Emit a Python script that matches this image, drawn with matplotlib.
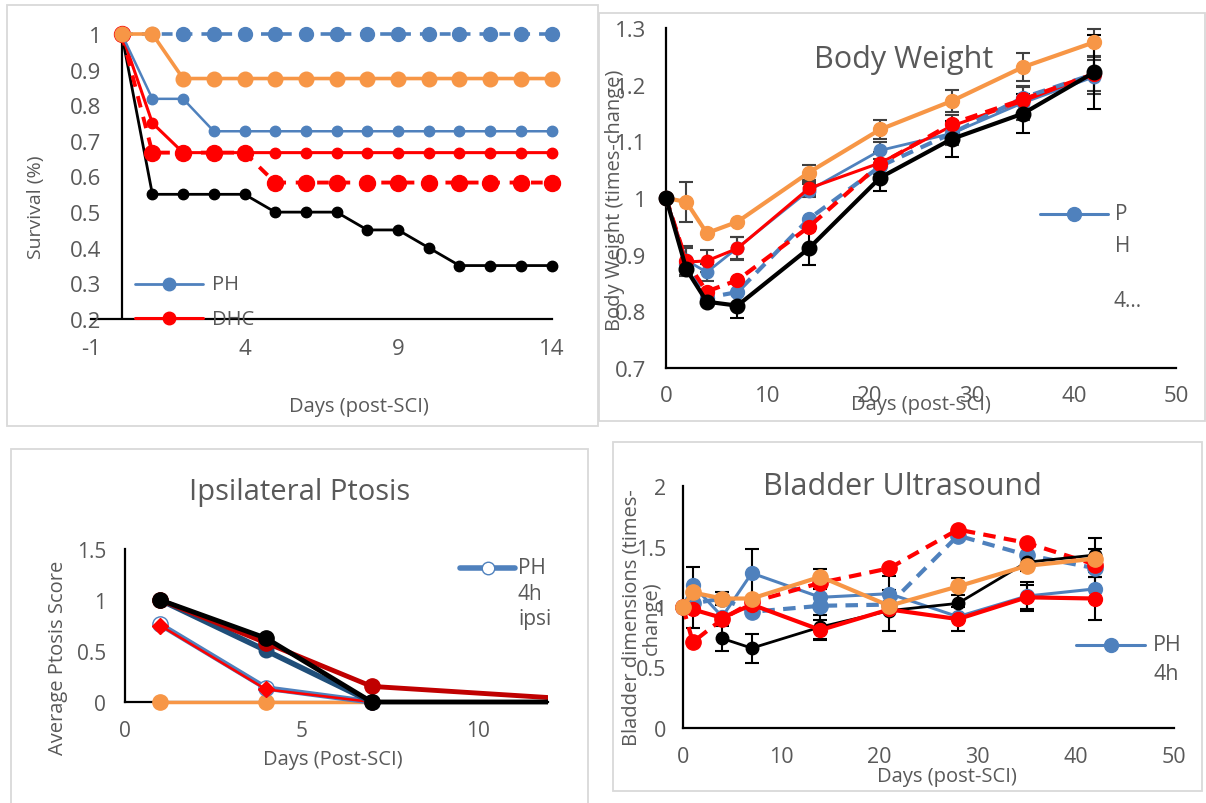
import numpy as np
import matplotlib
matplotlib.use('Agg')
import matplotlib.pyplot as plt
from matplotlib.patches import Rectangle
from matplotlib.lines import Line2D

plt.rcParams['font.family'] = ['Open Sans', 'DejaVu Sans']
plt.rcParams['axes.unicode_minus'] = False

nan = np.nan
# ---------------- data ----------------
# Survival
surv_days = [0, 1, 2, 3, 4, 5, 6, 7, 8, 9, 10, 11, 12, 13, 14]
surv_blue_dash = [1, 1, 1, 1, 1, 1, 1, 1, 1, 1, 1, 1, 1, 1, 1]
surv_orange = [1, 1, 0.875, 0.875, 0.875, 0.875, 0.875, 0.875, 0.875, 0.875, 0.875, 0.875, 0.875, 0.875, 0.875]
surv_blue = [1, 0.818, 0.818, 0.727, 0.727, 0.727, 0.727, 0.727, 0.727, 0.727, 0.727, 0.727, 0.727, 0.727, 0.727]
surv_red = [1, 0.75, 0.667, 0.667, 0.667, 0.667, 0.667, 0.667, 0.667, 0.667, 0.667, 0.667, 0.667, 0.667, 0.667]
surv_red_dash = [1, 0.667, 0.667, 0.667, 0.667, 0.583, 0.583, 0.583, 0.583, 0.583, 0.583, 0.583, 0.583, 0.583, 0.583]
surv_black = [1, 0.55, 0.55, 0.55, 0.55, 0.5, 0.5, 0.5, 0.45, 0.45, 0.4, 0.35, 0.35, 0.35, 0.35]
surv_yticks = [0.2, 0.3, 0.4, 0.5, 0.6, 0.7, 0.8, 0.9, 1.0]
surv_ylabels = ['0.2', '0.3', '0.4', '0.5', '0.6', '0.7', '0.8', '0.9', '1']
surv_xticks = [-1, 4, 9, 14]

# Body weight
bw_days = [0, 2, 4, 7, 14, 21, 28, 35, 42]
bw_orange = [1.0, 0.993, 0.938, 0.958, 1.045, 1.121, 1.171, 1.231, 1.275]
bw_blue = [1.0, 0.89, 0.869, 0.912, 1.013, 1.084, 1.114, 1.168, 1.214]
bw_red = [1.0, 0.887, 0.889, 0.911, 1.017, 1.062, 1.127, 1.171, 1.219]
bw_blue_dash = [1.0, 0.883, 0.824, 0.834, 0.963, 1.056, 1.114, 1.177, 1.219]
bw_red_dash = [1.0, 0.888, 0.835, 0.855, 0.949, 1.060, 1.131, 1.174, 1.219]
bw_black = [1.0, 0.874, 0.817, 0.810, 0.911, 1.036, 1.104, 1.149, 1.222]
bw_orange_err = [nan, 0.035, nan, nan, 0.014, 0.017, 0.019, 0.025, 0.024]
bw_black_err = [nan, nan, nan, 0.022, 0.03, 0.024, 0.032, 0.034, 0.065]
bw_red_err = [nan, 0.025, 0.02, 0.02, 0.012, 0.02, 0.02, 0.025, 0.03]
bw_blue_err = [nan, 0.025, 0.015, 0.02, 0.012, 0.015, 0.02, 0.03, 0.03]
bw_yticks = [0.7, 0.8, 0.9, 1.0, 1.1, 1.2, 1.3]
bw_ylabels = ['0.7', '0.8', '0.9', '1', '1.1', '1.2', '1.3']
bw_xticks = [0, 10, 20, 30, 40, 50]

# Ptosis
pt_days = [1, 4, 7, 14]
pt_darkblue = [1.0, 0.505, 0.0, nan]
pt_darkred = [1.0, 0.58, 0.153, 0.0]
pt_black = [1.0, 0.626, 0.0, 0.0]
pt_blue_open = [0.76, 0.137, 0.0, nan]
pt_red_diamond = [0.75, 0.124, 0.0, nan]
pt_orange = [0.0, 0.0, 0.0, nan]
pt_yticks = [0, 0.5, 1, 1.5]
pt_ylabels = ['0', '0.5', '1', '1.5']
pt_xticks = [0, 5, 10]

# Bladder
bl_days = [0, 1, 4, 7, 14, 21, 28, 35, 42]
bl_blue = [1.0, 1.18, 0.92, 1.28, 1.08, 1.11, 0.92, 1.09, 1.15]
bl_blue_dash = [1.0, 1.03, 1.07, 0.96, 1.01, 1.02, 1.59, 1.43, 1.32]
bl_red_dash = [1.0, 0.71, 0.90, 1.04, 1.20, 1.32, 1.64, 1.53, 1.35]
bl_red = [1.0, 0.98, 0.91, 1.02, 0.81, 0.98, 0.90, 1.08, 1.07]
bl_black = [nan, nan, 0.74, 0.66, 0.835, 0.97, 1.03, 1.37, 1.43]
bl_orange = [1.0, 1.12, 1.07, 1.07, 1.25, 1.01, 1.17, 1.34, 1.40]
bl_blue_err = [nan, 0.15, nan, 0.2, 0.07, 0.15, nan, 0.12, 0.1]
bl_black_err = [nan, nan, 0.1, 0.12, 0.1, 0.17, 0.12, 0.07, 0.14]
bl_red_err = [nan, 0.15, nan, nan, 0.08, nan, 0.1, 0.1, 0.18]
bl_orange_err = [nan, nan, 0.05, nan, 0.06, nan, 0.07, nan, 0.08]
bl_yticks = [0, 0.5, 1, 1.5, 2]
bl_ylabels = ['0', '0.5', '1', '1.5', '2']
bl_xticks = [0, 10, 20, 30, 40, 50]

# ---------------- style ----------------
BLUE = '#4F81BD'
ORANGE = '#F79646'
RED = '#FF0000'
DBLUE = '#1F4E79'
DRED = '#C00000'
GRAY = '#595959'
EGRAY = '#404040'

W, H = 1206, 804
fig = plt.figure(figsize=(W / 100, H / 100), dpi=100)


def ax_px(x0, y0, x1, y1):
    return fig.add_axes([x0 / W, 1 - y1 / H, (x1 - x0) / W, (y1 - y0) / H])


def border(x0, y0, x1, y1):
    fig.add_artist(Rectangle((x0 / W, 1 - y1 / H), (x1 - x0) / W, (y1 - y0) / H,
                             transform=fig.transFigure, fill=False,
                             edgecolor='#D9D9D9', lw=1.3))


def ftext(x, y, s, **kw):
    kw.setdefault('color', GRAY)
    kw.setdefault('ha', 'center')
    kw.setdefault('va', 'center')
    fig.text(x / W, 1 - y / H, s, **kw)


def leg(x0, x1, y, color, lw, ms, mfc=None, mec=None, marker='o'):
    fig.add_artist(Line2D([x0 / W, x1 / W], [1 - y / H] * 2, color=color, lw=lw,
                          solid_capstyle='round', transform=fig.transFigure))
    xm = (x0 + x1) / 2
    fig.add_artist(Line2D([xm / W], [1 - y / H], marker=marker, ms=ms,
                          mfc=mfc or color, mec=mec or color, lw=0,
                          transform=fig.transFigure))


def style(ax, xpad, ypad, size):
    for s in ['top', 'right']:
        ax.spines[s].set_visible(False)
    for s in ['bottom', 'left']:
        ax.spines[s].set_color('black')
        ax.spines[s].set_linewidth(1.6)
        ax.spines[s].set_zorder(1)
    ax.tick_params(length=0, labelsize=size, colors=GRAY)
    ax.tick_params(axis='x', pad=xpad)
    ax.tick_params(axis='y', pad=ypad)
    ax.patch.set_alpha(0)


def plot(ax, x, y, color, lw, ms, ls='-', marker='o', mfc=None, mec=None, dashes=None, z=3):
    kw = dict(color=color, lw=lw, ls=ls, marker=marker, ms=ms,
              mfc=mfc or color, mec=mec or color, clip_on=False, zorder=z)
    if dashes is not None:
        kw['dashes'] = dashes
    return ax.plot(x, y, **kw)[0]


def ebar(ax, x, y, err, color, z=2):
    c = ax.errorbar(x, y, yerr=err, fmt='none', ecolor=color, elinewidth=1.5,
                    capsize=5, capthick=1.5, zorder=z)
    for a in c.get_children():
        a.set_clip_on(False)


# ---------------- panel 1: survival ----------------
border(7, 6, 598, 427)
ax1 = ax_px(91, 35, 551.5, 320)
ax1.set_xlim(-1, 14)
ax1.set_ylim(0.2, 1.0)
ax1.set_xticks(surv_xticks)
ax1.set_yticks(surv_yticks)
ax1.set_yticklabels(surv_ylabels)
style(ax1, 14, -7.5, 16)
ax1.spines['left'].set_visible(False)
ax1.axvline(0, color='black', lw=1.6, zorder=1)
plot(ax1, surv_days, surv_black, 'black', 2.0, 7.5, z=3)
plot(ax1, surv_days, surv_red, RED, 2.2, 7.5, z=4)
plot(ax1, surv_days, surv_red_dash, RED, 2.8, 11.5, dashes=(3, 2.5), z=5)
plot(ax1, surv_days, surv_blue, BLUE, 1.8, 7.5, z=6)
plot(ax1, surv_days, surv_blue_dash, BLUE, 2.6, 10, dashes=(3, 2.5), z=6)
plot(ax1, surv_days, surv_orange, ORANGE, 2.6, 10.5, z=7)
ftext(359, 407, 'Days (post-SCI)', fontsize=14.5)
ftext(36.5, 207, 'Survival (%)', fontsize=14, rotation=90)
leg(135, 203, 285, BLUE, 2.0, 9)
leg(135, 203, 319, RED, 2.2, 9)
ftext(212, 285, 'PH', fontsize=14.5, ha='left')
ftext(212, 320, 'DHC', fontsize=14.5, ha='left')

# ---------------- panel 2: body weight ----------------
border(599, 14, 1205, 422)
ax2 = ax_px(666, 29, 1176, 369)
ax2.set_xlim(0, 50)
ax2.set_ylim(0.7, 1.3)
ax2.set_xticks(bw_xticks)
ax2.set_yticks(bw_yticks)
ax2.set_yticklabels(bw_ylabels)
style(ax2, 12, 14, 16)
ebar(ax2, bw_days, bw_orange, bw_orange_err, EGRAY)
ebar(ax2, bw_days, bw_blue, bw_blue_err, EGRAY)
ebar(ax2, bw_days, bw_red, bw_red_err, EGRAY)
ebar(ax2, bw_days, bw_black, bw_black_err, 'black')
plot(ax2, bw_days, bw_orange, ORANGE, 3.0, 10, z=3)
plot(ax2, bw_days, bw_blue, BLUE, 2.0, 9, z=4)
plot(ax2, bw_days, bw_red, RED, 2.2, 9, z=5)
plot(ax2, bw_days, bw_blue_dash, BLUE, 3.0, 10, dashes=(3, 2), z=6)
plot(ax2, bw_days, bw_red_dash, RED, 3.0, 10, dashes=(3, 2), z=7)
plot(ax2, bw_days, bw_black, 'black', 3.0, 10.5, z=8)
ftext(904, 60, 'Body Weight', fontsize=22)
ftext(921, 405, 'Days (post-SCI)', fontsize=14.5)
ftext(615, 200, 'Body Weight (times-change)', fontsize=14.5, rotation=90)
leg(1040, 1108, 215, BLUE, 2.2, 10)
ftext(1115, 215, 'P', fontsize=15, ha='left')
ftext(1115, 247, 'H', fontsize=15, ha='left')
ftext(1114, 302, '4...', fontsize=15, ha='left')

# ---------------- panel 3: ptosis ----------------
border(11, 450, 588, 812)
ax3 = ax_px(125, 550, 548, 703)
ax3.set_xlim(0, 12)
ax3.set_ylim(0, 1.5)
ax3.set_xticks(pt_xticks)
ax3.set_yticks(pt_yticks)
ax3.set_yticklabels(pt_ylabels)
style(ax3, 13, 13.5, 15)
clip3 = Rectangle((0, -0.3), 1, 1.6, transform=ax3.transAxes)
lines3 = []
lines3.append(plot(ax3, pt_days, pt_orange, ORANGE, 2.5, 11, z=3))
lines3.append(plot(ax3, pt_days, pt_blue_open, BLUE, 4.0, 11, mfc='white', mec=BLUE, z=4))
lines3.append(plot(ax3, pt_days, pt_red_diamond, RED, 1.8, 8, marker='D', z=5))
lines3.append(plot(ax3, pt_days, pt_darkblue, DBLUE, 4.0, 10.5, z=6))
lines3.append(plot(ax3, pt_days, pt_darkred, DRED, 3.5, 11, z=7))
lines3.append(plot(ax3, pt_days, pt_black, 'black', 3.5, 11, z=8))
for ln in lines3:
    ln.set_clip_on(True)
    ln.set_clip_path(clip3)
ftext(300, 493, 'Ipsilateral Ptosis', fontsize=21)
ftext(333, 760, 'Days (Post-SCI)', fontsize=14.5)
ftext(58, 658, 'Average Ptosis Score', fontsize=14.5, rotation=90)
leg(460, 515, 569, BLUE, 4.0, 9, mfc='white', mec=BLUE)
ftext(518, 569, 'PH', fontsize=15, ha='left')
ftext(518, 595, '4h', fontsize=15, ha='left')
ftext(518, 620, 'ipsi', fontsize=15, ha='left')

# ---------------- panel 4: bladder ----------------
border(613, 443, 1202, 792)
ax4 = ax_px(683, 487, 1174, 729)
ax4.set_xlim(0, 50)
ax4.set_ylim(0, 2)
ax4.set_xticks(bl_xticks)
ax4.set_yticks(bl_yticks)
ax4.set_yticklabels(bl_ylabels)
style(ax4, 13, 12, 15.5)
ebar(ax4, bl_days, bl_blue, bl_blue_err, 'black')
ebar(ax4, bl_days, bl_black, bl_black_err, 'black')
ebar(ax4, bl_days, bl_red, bl_red_err, 'black')
ebar(ax4, bl_days, bl_orange, bl_orange_err, 'black')
plot(ax4, bl_days, bl_blue, BLUE, 2.2, 10, z=3)
plot(ax4, bl_days, bl_blue_dash, BLUE, 3.0, 11, dashes=(3, 2), z=4)
plot(ax4, bl_days, bl_red_dash, RED, 3.0, 11, dashes=(3, 2), z=5)
plot(ax4, bl_days, bl_black, 'black', 2.0, 9, z=6)
plot(ax4, bl_days, bl_red, RED, 3.0, 10, z=7)
plot(ax4, bl_days, bl_orange, ORANGE, 3.0, 11, z=8)
ftext(902, 487, 'Bladder Ultrasound', fontsize=22)
ftext(947, 777, 'Days (post-SCI)', fontsize=14.5)
ftext(642, 618, 'Bladder dimensions (times-\nchange)', fontsize=14.5, rotation=90,
      linespacing=1.0, multialignment='center')
leg(1076, 1145, 646, BLUE, 2.2, 10)
ftext(1153, 646, 'PH', fontsize=15.5, ha='left')
ftext(1153, 675, '4h', fontsize=15.5, ha='left')

fig.savefig('out.png', dpi=100)
